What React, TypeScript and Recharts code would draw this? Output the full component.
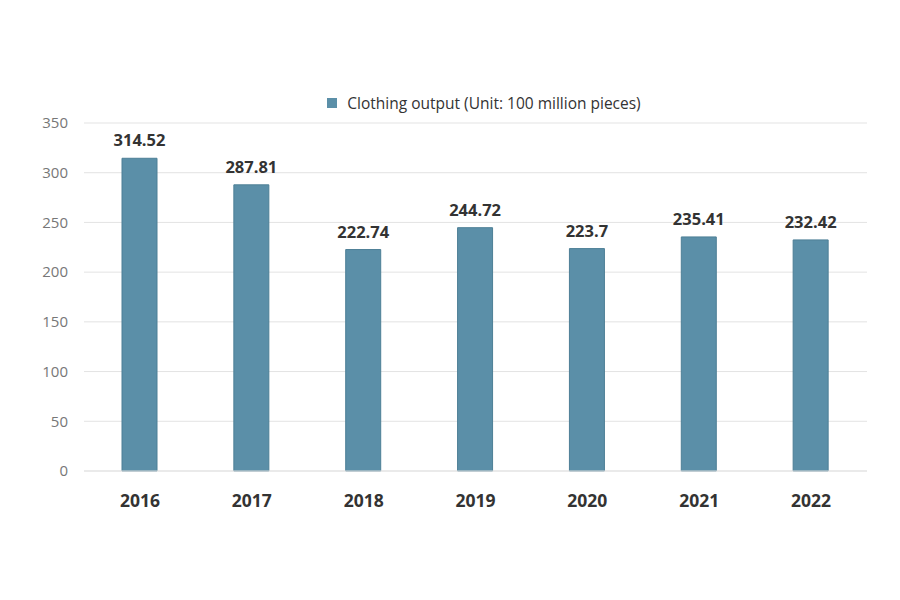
import React from "react";
import { BarChart, Bar, XAxis, YAxis, CartesianGrid, Legend, LabelList } from "recharts";

const years = ["2016", "2017", "2018", "2019", "2020", "2021", "2022"];
const output = [314.52, 287.81, 222.74, 244.72, 223.7, 235.41, 232.42];
const yTicks = [0, 50, 100, 150, 200, 250, 300, 350];
const seriesName = "Clothing output (Unit: 100 million pieces)";

const data = years.map((y, i) => ({ year: y, value: output[i] }));

const FONT = "'Open Sans', 'Noto Sans', sans-serif";
const BAR = "#5b8fa8";

const LegendContent = () => (
  <div style={{ display: "flex", alignItems: "center", justifyContent: "center", fontFamily: FONT, fontSize: 15.5, color: "#333", lineHeight: "20px" }}>
    <span style={{ display: "inline-block", width: 10, height: 10, background: BAR, marginRight: 10 }} />
    <span>{seriesName}</span>
  </div>
);

export default function App() {
  return (
    <div style={{ width: 900, height: 600, background: "#fff" }}>
      <BarChart width={900} height={600} data={data} margin={{ top: 95, right: 41, bottom: 97, left: 14 }}>
        <CartesianGrid horizontal vertical={false} stroke="#e3e3e3" />
        <XAxis
          dataKey="year"
          axisLine={{ stroke: "#e3e3e3" }}
          tickLine={false}
          height={40}
          tickMargin={18}
          tick={{ fill: "#333", fontSize: 17.5, fontWeight: 700, fontFamily: FONT }}
        />
        <YAxis
          width={62}
          domain={[0, 350]}
          ticks={yTicks}
          axisLine={false}
          tickLine={false}
          tickMargin={10}
          tick={{ fill: "#777", fontSize: 15, fontFamily: FONT }}
        />
        <Legend verticalAlign="top" content={<LegendContent />} wrapperStyle={{ top: 85, left: 26, width: 900 }} />
        <Bar dataKey="value" name={seriesName} fill={BAR} stroke="#4d7f96" strokeWidth={1} barSize={35} isAnimationActive={false}>
          <LabelList dataKey="value" position="top" offset={12} fill="#333" fontSize={16.5} fontWeight={700} fontFamily={FONT} />
        </Bar>
      </BarChart>
    </div>
  );
}
